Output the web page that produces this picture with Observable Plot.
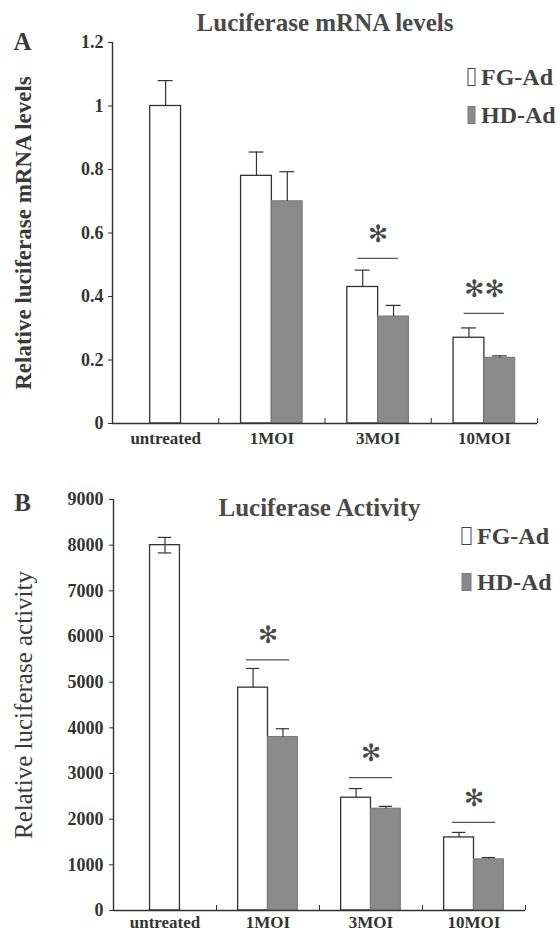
<!DOCTYPE html>
<html>
<head>
<meta charset="utf-8">
<script src="https://cdn.jsdelivr.net/npm/d3@7"></script>
<script src="https://cdn.jsdelivr.net/npm/@observablehq/plot@0.6"></script>
<style>
  html, body { margin: 0; padding: 0; background: #fff; }
  #chart { width: 560px; height: 932px; position: relative; overflow: hidden; }
  #chart svg { display: block; }
</style>
</head>
<body>
<div id="chart"></div>
<script>
// ---------- shared categories / series ----------
const categories = ["untreated", "1MOI", "3MOI", "10MOI"];
const series = ["FG-Ad", "HD-Ad"];

// ---------- Panel A: Luciferase mRNA levels ----------
const mrnaTitle = "Luciferase mRNA levels";
const mrnaYLabel = "Relative luciferase mRNA levels";
const mrnaFG = [1.0, 0.78, 0.43, 0.27];
const mrnaFGErr = [0.08, 0.075, 0.053, 0.031];
const mrnaHD = [null, 0.70, 0.337, 0.207];
const mrnaHDErr = [null, 0.093, 0.035, 0.006];
const mrnaSigLevel = [null, null, 0.52, 0.347];
const mrnaSigLabel = [null, null, "\u273B", "\u273B\u273B"];
const mrnaTicks = [0, 0.2, 0.4, 0.6, 0.8, 1, 1.2];

// ---------- Panel B: Luciferase Activity ----------
const actTitle = "Luciferase Activity";
const actYLabel = "Relative luciferase activity";
const actFG = [8000, 4880, 2470, 1600];
const actFGErr = [170, 420, 200, 110];
const actHD = [null, 3800, 2230, 1120];
const actHDErr = [null, 180, 50, 40];
const actSigLevel = [null, 5490, 2910, 1930];
const actSigLabel = [null, "\u273B", "\u273B", "\u273B"];
const actTicks = [0, 1000, 2000, 3000, 4000, 5000, 6000, 7000, 8000, 9000];

const SERIF = "'Liberation Serif', 'Times New Roman', serif";
const INK = "#333";
const HD_FILL = "#8a8a8a";

function buildPanel(cfg) {
  const barW = 0.29;        // bar width in category units
  const capW = cfg.capW;    // half cap width in category units
  const bars = [];
  const sigs = [];
  categories.forEach((c, i) => {
    const mid = i + 0.5;
    const paired = cfg.hd[i] != null;
    const fx1 = paired ? mid - barW : mid - barW / 2;
    bars.push({series: series[0], cat: c, x1: fx1, x2: fx1 + barW, c: fx1 + barW / 2,
               value: cfg.fg[i], err: cfg.fgErr[i], single: !paired});
    if (paired) {
      bars.push({series: series[1], cat: c, x1: mid, x2: mid + barW, c: mid + barW / 2,
                 value: cfg.hd[i], err: cfg.hdErr[i], single: false});
    }
    if (cfg.sigLevel[i] != null) sigs.push({mid, y: cfg.sigLevel[i], label: cfg.sigLabel[i]});
  });
  const fgBars = bars.filter(d => d.series === series[0]);
  const hdBars = bars.filter(d => d.series === series[1]);

  const legendMark = (index, scales, values, dims) => {
    const g = d3.create("svg:g").attr("text-anchor", "start");
    const xr = dims.width - dims.marginRight;
    series.forEach((s, k) => {
      const cy = dims.marginTop + cfg.legendRows[k];
      g.append("rect")
        .attr("x", xr + cfg.legendBoxDx).attr("y", cy - 8.5)
        .attr("width", cfg.legendBoxW).attr("height", 17)
        .attr("fill", k === 0 ? "#fff" : HD_FILL)
        .attr("stroke", k === 0 ? "#444" : "#7a7a7a").attr("stroke-width", 1);
      g.append("text")
        .attr("x", xr + cfg.legendTextDx).attr("y", cy)
        .attr("dy", "0.35em")
        .attr("text-anchor", "start")
        .attr("font-family", SERIF).attr("font-size", 24).attr("font-weight", "bold")
        .attr("fill", "#444").text(s);
    });
    return g.node();
  };

  return Plot.plot({
    width: 560,
    height: cfg.height,
    marginLeft: cfg.marginLeft,
    marginRight: cfg.marginRight,
    marginTop: cfg.marginTop,
    marginBottom: cfg.marginBottom,
    style: {fontFamily: SERIF, color: INK, background: "#fff", overflow: "visible"},
    x: {type: "linear", domain: [0, categories.length]},
    y: {domain: cfg.yDomain},
    marks: [
      // bars
      Plot.rectY(fgBars, {x1: "x1", x2: "x2", y1: 0, y2: "value", fill: "#fff", stroke: INK, strokeWidth: 1.3}),
      Plot.rectY(hdBars, {x1: "x1", x2: "x2", y1: 0, y2: "value", fill: HD_FILL, stroke: "#777", strokeWidth: 1}),
      // error bars (upper)
      Plot.ruleX(bars, {x: "c", y1: "value", y2: d => d.value + d.err, stroke: INK, strokeWidth: 1.2}),
      Plot.ruleY(bars, {y: d => d.value + d.err, x1: d => d.c - capW, x2: d => d.c + capW, stroke: INK, strokeWidth: 1.2}),
      // lower whisker for single bar (panel B)
      ...(cfg.lowerSingle ? [
        Plot.ruleX(bars.filter(d => d.single), {x: "c", y1: d => d.value - d.err, y2: "value", stroke: INK, strokeWidth: 1.2}),
        Plot.ruleY(bars.filter(d => d.single), {y: d => d.value - d.err, x1: d => d.c - capW, x2: d => d.c + capW, stroke: INK, strokeWidth: 1.2})
      ] : []),
      // significance lines & asterisks
      Plot.ruleY(sigs, {y: "y", x1: d => d.mid - cfg.sigHalf, x2: d => d.mid + cfg.sigHalf, stroke: "#555", strokeWidth: 1.3}),
      Plot.text(sigs, {x: "mid", y: "y", text: "label", dy: -24, fontSize: 24, fontFamily: "'DejaVu Sans', sans-serif", fill: "#4a4a4a", lineAnchor: "middle"}),
      // axes lines
      Plot.ruleX([0], {stroke: INK, strokeWidth: 1.4}),
      Plot.ruleY([0], {stroke: INK, strokeWidth: 1.4}),
      Plot.axisY({ticks: cfg.ticks, tickFormat: d => String(d), tickSize: 4, tickPadding: cfg.yTickPad,
                  fontSize: 18, fontWeight: "bold", label: null}),
      Plot.axisX({ticks: categories.map((c, i) => i + 1), tickFormat: () => "", tickSize: -5, label: null}),
      Plot.axisX({ticks: categories.map((c, i) => i + 0.5), tickFormat: d => categories[Math.floor(d)],
                  tickSize: 0, tickPadding: cfg.xTickPad, fontSize: 17, fontWeight: "bold", label: null}),
      // y-axis title
      Plot.text([cfg.yLabel], {frameAnchor: "left", text: d => d, rotate: -90, dx: cfg.yLabelDx,
                               fontSize: cfg.yLabelSize, fontWeight: cfg.yLabelWeight, fill: "#3a3a3a",
                               textAnchor: "middle", lineAnchor: "middle"}),
      // chart title
      Plot.text([cfg.title], {frameAnchor: "top", text: d => d, dy: cfg.titleDy, fontSize: 25,
                              fontWeight: "bold", fill: "#4a4a4a", lineAnchor: "middle"}),
      // panel letter
      Plot.text([cfg.letter], {frameAnchor: "top-left", text: d => d, dx: cfg.letterDx, dy: cfg.letterDy,
                               fontSize: 25, fontWeight: "bold", fill: "#3a3a3a",
                               textAnchor: "middle", lineAnchor: "middle"}),
      legendMark
    ]
  });
}

const panelA = buildPanel({
  height: 460, marginLeft: 112, marginRight: 23, marginTop: 42, marginBottom: 37,
  yDomain: [0, 1.2], ticks: mrnaTicks,
  fg: mrnaFG, fgErr: mrnaFGErr, hd: mrnaHD, hdErr: mrnaHDErr,
  sigLevel: mrnaSigLevel, sigLabel: mrnaSigLabel,
  capW: 0.07, sigHalf: 0.19, lowerSingle: false,
  yTickPad: 5, xTickPad: 8,
  yLabel: mrnaYLabel, yLabelDx: -89, yLabelSize: 23, yLabelWeight: "bold",
  title: mrnaTitle, titleDy: -20,
  letter: "A", letterDx: -90, letterDy: -1,
  legendRows: [35, 73], legendBoxDx: -69, legendBoxW: 7, legendTextDx: -56
});

const panelB = buildPanel({
  height: 472, marginLeft: 113, marginRight: 35, marginTop: 39, marginBottom: 22,
  yDomain: [0, 9000], ticks: actTicks,
  fg: actFG, fgErr: actFGErr, hd: actHD, hdErr: actHDErr,
  sigLevel: actSigLevel, sigLabel: actSigLabel,
  capW: 0.065, sigHalf: 0.21, lowerSingle: true,
  yTickPad: 6, xTickPad: 5,
  yLabel: actYLabel, yLabelDx: -90, yLabelSize: 25, yLabelWeight: "normal",
  title: actTitle, titleDy: 8,
  letter: "B", letterDx: -91, letterDy: 3,
  legendRows: [37, 83], legendBoxDx: -63, legendBoxW: 9, legendTextDx: -48
});

const root = document.getElementById("chart");
root.append(panelA, panelB);
</script>
</body>
</html>
